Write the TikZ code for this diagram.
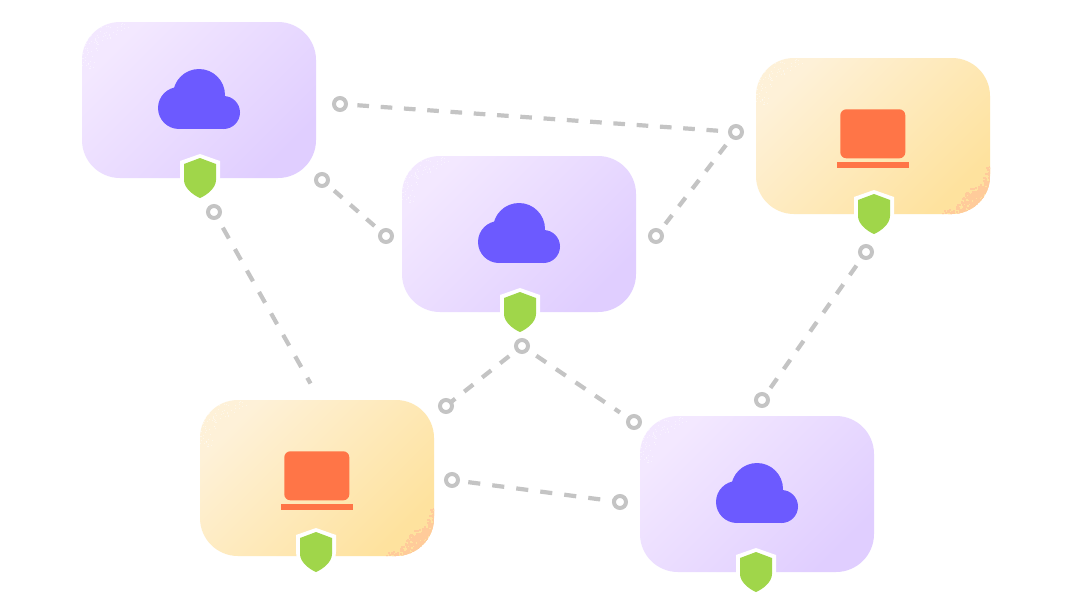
\documentclass[tikz,border=0pt]{standalone}
\usetikzlibrary{calc}
\pgfdeclarelayer{back}
\pgfsetlayers{back,main}
\definecolor{ringgray}{HTML}{C4C4C4}
\definecolor{shieldgreen}{HTML}{A0D64A}
\definecolor{cloudblue}{HTML}{6C5AFF}
\definecolor{laptoporange}{HTML}{FF7547}
\definecolor{peach}{HTML}{FFCB9A}
\definecolor{purpleA}{HTML}{F3E8FF}
\definecolor{purpleB}{HTML}{E0CEFF}
\definecolor{orangeA}{HTML}{FEF1D8}
\definecolor{orangeB}{HTML}{FEE29E}
\tikzset{
  x=1pt,y=-1pt,
  cardbase/.style={rectangle,rounded corners=38pt,minimum width=234pt,minimum height=156pt,inner sep=0pt,outer sep=0pt},
  purplecard/.style={cardbase,top color=purpleA,bottom color=purpleB,shading angle=45},
  orangecard/.style={cardbase,top color=orangeA,bottom color=orangeB,shading angle=45},
  ringnode/.style={circle,draw=ringgray,fill=white,line width=4pt,minimum size=12pt,inner sep=0pt},
  link/.style={draw=ringgray,line width=4.2pt},
}
% shield at top-centre (x,y)
\newcommand{\shieldmark}[2]{%
  \begin{scope}[shift={(#1,#2)}]
    \fill[white] (0,0) -- (20,7) -- (20,24) .. controls (20,36) and (8,44) .. (0,47) .. controls (-8,44) and (-20,36) .. (-20,24) -- (-20,7) -- cycle;
    \fill[shieldgreen] (0,4) -- (16,10) -- (16,26) .. controls (16,34) and (7,41) .. (0,44) .. controls (-7,41) and (-16,34) .. (-16,26) -- (-16,10) -- cycle;
  \end{scope}}
\newcommand{\cloudmark}[2]{%
  \begin{scope}[shift={(#1,#2)}]
    \fill[cloudblue] (0,-5) circle[radius=26];
    \fill[cloudblue] (-20,8) circle[radius=21];
    \fill[cloudblue] (24.5,12.5) circle[radius=16.5];
    \fill[cloudblue] (-20,4) rectangle (24.5,29);
  \end{scope}}
\newcommand{\laptopmark}[2]{%
  \begin{scope}[shift={(#1,#2)}]
    \fill[laptoporange,rounded corners=6pt] (-32.7,-26.7) rectangle (32.3,22.3);
    \fill[laptoporange] (-36,25.7) rectangle (36,32);
  \end{scope}}
% top-left white grain
\newcommand{\grainTL}[2]{%
  \begin{scope}
    \clip[rounded corners=38pt] (#1-117,#2-78) rectangle (#1+117,#2+78);
    \pgfmathsetseed{7}
    \foreach \i in {1,...,110}{
      \pgfmathsetmacro{\ga}{180+rnd*90}
      \pgfmathsetmacro{\gr}{34+rnd^.7*20}
      \fill[white,opacity=.45,shift={(#1-70,#2-32)}] (\ga:\gr) rectangle ++(1,1);
    }
  \end{scope}}
% bottom-right peach grain
\newcommand{\grainBR}[2]{%
  \begin{scope}
    \clip[rounded corners=38pt] (#1-117,#2-78) rectangle (#1+117,#2+78);
    \pgfmathsetseed{11}
    \foreach \i in {1,...,800}{
      \pgfmathsetmacro{\ga}{0+rnd*90}
      \pgfmathsetmacro{\gr}{33+11*abs(cos(2*(\ga-45)+90))+rnd^.6*20}
      \fill[peach,shift={(#1+68,#2+30)}] (\ga:\gr) rectangle ++(2,2);
    }
  \end{scope}}
\begin{document}
\begin{tikzpicture}
\useasboundingbox (0,0) rectangle (1072,616);
\begin{pgfonlayer}{back}
  \fill[white] (0,0) rectangle (1072,616);
\end{pgfonlayer}
% cards
\node[purplecard] (cardA) at (199,100) {};
\node[purplecard] (cardB) at (519,234) {};
\node[orangecard] (cardC) at (873,136) {};
\node[orangecard] (cardD) at (317,478) {};
\node[purplecard] (cardE) at (757,494) {};
\grainTL{199}{100}\grainTL{519}{234}\grainTL{873}{136}\grainTL{317}{478}\grainTL{757}{494}
\grainBR{873}{136}\grainBR{317}{478}
\cloudmark{199}{100}
\cloudmark{519}{234}
\cloudmark{757}{494}
\laptopmark{873}{136}
\laptopmark{317}{478}
\shieldmark{200}{154}
\shieldmark{520}{288}
\shieldmark{874}{190}
\shieldmark{316}{528}
\shieldmark{756}{548}
% rings
\node[ringnode] (r1) at (340,104) {};
\node[ringnode] (r2) at (736,132) {};
\node[ringnode] (r3) at (322,180) {};
\node[ringnode] (r4) at (386,236) {};
\node[ringnode] (r5) at (656,236) {};
\node[ringnode] (r6) at (214,212) {};
\node[ringnode] (r7) at (866,252) {};
\node[ringnode] (r8) at (762,400) {};
\node[ringnode] (r9) at (522,346) {};
\node[ringnode] (r10) at (446,406) {};
\node[ringnode] (r11) at (634,422) {};
\node[ringnode] (r12) at (452,480) {};
\node[ringnode] (r13) at (620,502) {};
\coordinate (free) at (310.5,383.5);
\begin{pgfonlayer}{back}
  \draw[link,dash pattern=on 11.65pt off 11.68pt,dash phase=5.9pt] (r1.center) -- (r2.center);
  \draw[link,dash pattern=on 10.75pt off 10.75pt,dash phase=5.4pt] (r3.center) -- (r4.center);
  \draw[link,dash pattern=on 11.05pt off 11.05pt,dash phase=6.8pt] (r5.center) -- (r2.center);
  \draw[link,dash pattern=on 12.3pt off 12.3pt,dash phase=6.6pt] (r6.center) -- (free);
  \draw[link,dash pattern=on 11.5pt off 11.5pt,dash phase=8.25pt] (r8.center) -- (r7.center);
  \draw[link,dash pattern=on 11.45pt off 11.45pt,dash phase=22.6pt] (r10.center) -- (r9.center);
  \draw[link,dash pattern=on 11.85pt off 11.85pt,dash phase=6.4pt,shorten >=17pt] (r9.center) -- (r11.center);
  \draw[link,dash pattern=on 12.1pt off 12.1pt,dash phase=7.8pt] (r12.center) -- (r13.center);
\end{pgfonlayer}
\end{tikzpicture}
\end{document}
